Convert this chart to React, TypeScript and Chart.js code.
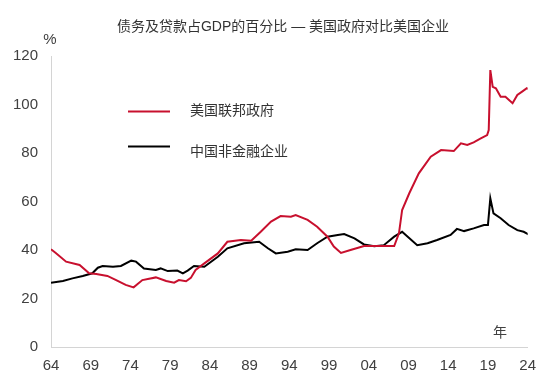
import React, { useEffect, useRef } from "react";
import { Chart, registerables } from "chart.js";

Chart.register(...registerables);

const titleText = "债务及贷款占GDP的百分比 — 美国政府对比美国企业";
const seriesNames = ["美国联邦政府", "中国非金融企业"];
const yUnit = "%";
const xUnit = "年";

const govYears = [
  1964.0, 1964.6, 1965.9, 1967.6, 1968.8, 1969.7, 1971.1, 1972.2, 1973.4, 1974.4,
  1975.5, 1977.2, 1978.5, 1979.5, 1980.1, 1981.0, 1981.6, 1982.2, 1983.3, 1985.0,
  1986.2, 1987.9, 1989.2, 1990.4, 1991.7, 1992.9, 1994.2, 1994.8, 1996.3, 1997.5,
  1998.8, 1999.6, 2000.5, 2001.7, 2003.4, 2005.5, 2007.2, 2007.8, 2008.2, 2009.1,
  2010.3, 2011.8, 2013.1, 2014.7, 2015.6, 2016.4, 2017.2, 2018.1, 2018.9, 2019.1,
  2019.3, 2019.6, 2020.0, 2020.6, 2021.2, 2022.1, 2022.7, 2023.3, 2023.9, 2024.1,
];
const govValues = [
  40.3, 38.8, 35.2, 33.8, 30.4, 30.1, 29.3, 27.6, 25.6, 24.6,
  27.6, 28.7, 27.2, 26.5, 27.6, 27.1, 28.5, 31.8, 34.5, 38.6,
  43.4, 44.1, 43.8, 47.5, 51.7, 54.0, 53.7, 54.4, 52.4, 49.6,
  45.5, 41.4, 38.8, 40.0, 41.6, 41.6, 41.6, 46.9, 56.5, 63.4,
  71.6, 78.5, 81.2, 80.8, 84.0, 83.3, 84.4, 86.0, 87.4, 89.5,
  114.2, 107.3, 106.7, 103.2, 103.2, 100.5, 103.9, 105.3, 106.7, 106.4,
];

const corpYears = [
  1964.0, 1965.5, 1966.7, 1968.0, 1969.2, 1969.9, 1970.5, 1971.8, 1972.8, 1974.1,
  1974.7, 1975.7, 1977.2, 1977.8, 1978.7, 1979.9, 1980.6, 1981.2, 1982.0, 1983.3,
  1985.0, 1986.2, 1988.3, 1990.2, 1991.3, 1992.3, 1993.8, 1994.8, 1996.3, 1997.5,
  1998.8, 2000.1, 2000.9, 2002.2, 2003.4, 2004.7, 2005.9, 2007.2, 2008.2, 2008.9,
  2010.1, 2011.4, 2012.6, 2014.3, 2015.1, 2016.0, 2017.2, 2018.5, 2019.0, 2019.3,
  2019.7, 2020.6, 2021.6, 2022.7, 2023.5, 2024.1,
];
const corpValues = [
  26.5, 27.2, 28.3, 29.3, 30.4, 32.7, 33.4, 33.1, 33.4, 35.6,
  35.2, 32.4, 31.8, 32.4, 31.3, 31.5, 30.4, 31.5, 33.4, 33.1,
  37.2, 40.7, 42.8, 43.4, 40.7, 38.6, 39.3, 40.3, 40.0, 42.8,
  45.5, 46.2, 46.6, 44.8, 42.3, 41.6, 42.0, 45.5, 47.5, 45.5,
  42.0, 42.8, 44.1, 46.2, 48.7, 47.8, 48.9, 50.3, 50.3, 61.3,
  55.1, 53.1, 50.3, 48.2, 47.5, 46.5,
];

const xTickValues = [1964, 1969, 1974, 1979, 1984, 1989, 1994, 1999, 2004, 2009, 2014, 2019, 2024];
const xTickLabels = ["64", "69", "74", "79", "84", "89", "94", "99", "04", "09", "14", "19", "24"];
const yTickValues = [0, 20, 40, 60, 80, 100, 120];

const RED = "#c8102e";
const BLACK = "#000000";
const TEXT = "#404040";
const FONT_FAMILY = '"Liberation Sans", "Noto Sans CJK SC", sans-serif';

const overlayPlugin = {
  id: "overlayText",
  afterDraw(chart: any) {
    const ctx = chart.ctx;
    const area = chart.chartArea;
    ctx.save();
    ctx.fillStyle = "#333333";
    ctx.textBaseline = "middle";
    ctx.textAlign = "center";
    ctx.font = `14px ${FONT_FAMILY}`;
    ctx.fillText(titleText, 283, 27);

    ctx.fillStyle = TEXT;
    ctx.font = `15px ${FONT_FAMILY}`;
    ctx.fillText(yUnit, area.left - 1, 40);

    ctx.font = `14px ${FONT_FAMILY}`;
    ctx.fillText(xUnit, 500, 333);

    // legend
    const items = [
      { color: RED, lineY: 111.5, textY: 111, name: seriesNames[0] },
      { color: BLACK, lineY: 146.5, textY: 152, name: seriesNames[1] },
    ];
    ctx.textAlign = "left";
    for (const it of items) {
      ctx.strokeStyle = it.color;
      ctx.lineWidth = 2;
      ctx.beginPath();
      ctx.moveTo(128, it.lineY);
      ctx.lineTo(170, it.lineY);
      ctx.stroke();
      ctx.fillStyle = "#333333";
      ctx.font = `14px ${FONT_FAMILY}`;
      ctx.fillText(it.name, 190, it.textY);
    }
    ctx.restore();
  },
};

export default function App() {
  const canvasRef = useRef<HTMLCanvasElement | null>(null);

  useEffect(() => {
    if (!canvasRef.current) return;
    const govData = govYears.map((x, i) => ({ x, y: govValues[i] }));
    const corpData = corpYears.map((x, i) => ({ x, y: corpValues[i] }));
    const chart = new Chart(canvasRef.current, {
      type: "line",
      data: {
        datasets: [
          {
            label: seriesNames[0],
            data: govData,
            borderColor: RED,
            borderWidth: 2,
            pointRadius: 0,
            tension: 0,
          },
          {
            label: seriesNames[1],
            data: corpData,
            borderColor: BLACK,
            borderWidth: 2,
            pointRadius: 0,
            tension: 0,
          },
        ],
      },
      options: {
        responsive: false,
        animation: false,
        devicePixelRatio: 1,
        layout: { padding: { left: 0, right: 18, top: 56, bottom: 0 } },
        plugins: {
          legend: { display: false },
          title: { display: false },
          tooltip: { enabled: false },
        },
        scales: {
          x: {
            type: "linear",
            min: 1964,
            max: 2024,
            afterBuildTicks: (scale: any) => {
              scale.ticks = xTickValues.map((v) => ({ value: v }));
            },
            afterFit: (scale: any) => {
              scale.height = 34;
            },
            ticks: {
              autoSkip: false,
              maxRotation: 0,
              padding: 10,
              color: TEXT,
              font: { size: 15, family: FONT_FAMILY },
              callback: (value: any) => {
                const idx = xTickValues.indexOf(Number(value));
                return idx >= 0 ? xTickLabels[idx] : "";
              },
            },
            grid: { display: true, drawOnChartArea: false, drawTicks: false },
            border: { display: true, color: "#d4d4d4", width: 1 },
          },
          y: {
            min: 0,
            max: 120,
            afterBuildTicks: (scale: any) => {
              scale.ticks = yTickValues.map((v) => ({ value: v }));
            },
            afterFit: (scale: any) => {
              scale.width = 51;
            },
            ticks: {
              padding: 13,
              color: TEXT,
              font: { size: 15, family: FONT_FAMILY },
            },
            grid: { display: true, drawOnChartArea: false, drawTicks: false },
            border: { display: true, color: "#d4d4d4", width: 1 },
          },
        },
      },
      plugins: [overlayPlugin],
    } as any);
    return () => chart.destroy();
  }, []);

  return (
    <div style={{ position: "fixed", left: 0, top: 0, width: 546, height: 381, background: "#fff" }}>
      <canvas ref={canvasRef} width={546} height={381} style={{ width: 546, height: 381 }} />
    </div>
  );
}
